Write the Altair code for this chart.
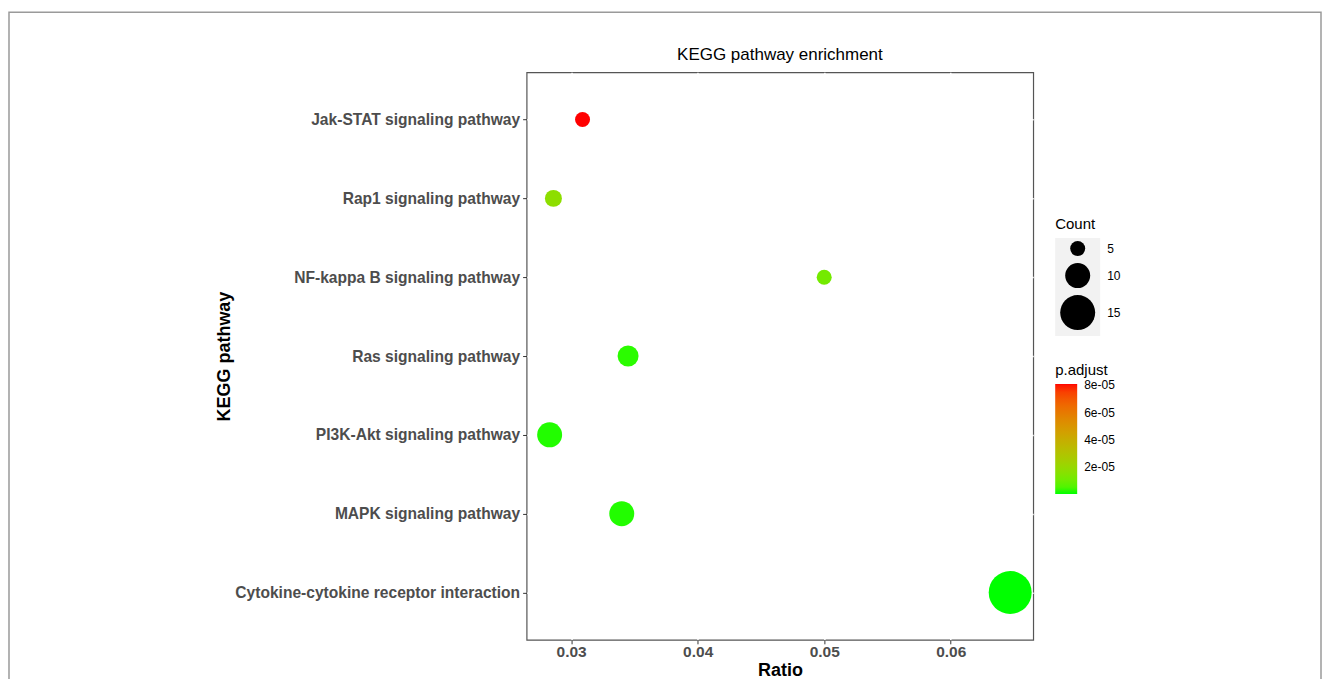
import altair as alt
import pandas as pd

pathways = [
    "Jak-STAT signaling pathway",
    "Rap1 signaling pathway",
    "NF-kappa B signaling pathway",
    "Ras signaling pathway",
    "PI3K-Akt signaling pathway",
    "MAPK signaling pathway",
    "Cytokine-cytokine receptor interaction",
]
ratio = [0.0309, 0.0286, 0.0500, 0.0345, 0.0283, 0.0340, 0.0647]
count = [5, 6, 5, 8, 10, 10, 19]
padj = [8.1e-05, 1.7e-05, 1.1e-05, 1.5e-06, 1.0e-06, 1.0e-06, 2.0e-08]
x_ticks = [0.03, 0.04, 0.05, 0.06]
count_ticks = [5, 10, 15]
padj_ticks = [2e-05, 4e-05, 6e-05, 8e-05]

df = pd.DataFrame({"Pathway": pathways, "Ratio": ratio, "Count": count, "padj": padj})

FONT = "Liberation Sans"
W, H = 507, 568

points = alt.Chart(df).transform_calculate(
    sz="datum.Count + 2.5"
).mark_circle(opacity=1).encode(
    x=alt.X("Ratio:Q",
            scale=alt.Scale(domain=[0.02648, 0.06652], nice=False, zero=False),
            axis=alt.Axis(values=x_ticks, format=".2f", title="Ratio",
                          labelFontWeight="bold", labelFontSize=15.5, labelColor="#4D4D4D",
                          titleFontWeight="bold", titleFontSize=18, titleColor="black",
                          tickColor="#333333", tickSize=4, labelPadding=1, titlePadding=1,
                          grid=True, gridColor="white", gridWidth=1.5, domain=False)),
    y=alt.Y("Pathway:N", sort=pathways,
            scale=alt.Scale(type="point", padding=0.6),
            axis=alt.Axis(title="KEGG pathway", labelLimit=500,
                          labelFontWeight="bold", labelFontSize=15.6, labelColor="#4D4D4D",
                          titleFontWeight="bold", titleFontSize=18, titleColor="black",
                          titleX=-297, titleY=H / 2, titleBaseline="alphabetic",
                          titleAlign="center", titleAngle=270,
                          tickColor="#333333", tickSize=4, labelPadding=3,
                          grid=True, gridColor="white", gridWidth=1.5, domain=False)),
    size=alt.Size("sz:Q",
                  scale=alt.Scale(type="pow", exponent=2, domain=[0, 21.5],
                                  range=[0, 43 ** 2]),
                  legend=alt.Legend(title="Count", values=[c + 2.5 for c in count_ticks],
                                    labelExpr="format(datum.value - 2.5, 'd')",
                                    orient="none", legendX=529, legendY=145,
                                    symbolFillColor="black", symbolStrokeWidth=0,
                                    symbolOpacity=1, symbolType="circle", symbolOffset=5,
                                    titleFontSize=15, titleFontWeight="normal", titleColor="black",
                                    labelFontSize=12, labelColor="black", labelOffset=12,
                                    rowPadding=7, titlePadding=9)),
    color=alt.Color("padj:Q",
                    scale=alt.Scale(range=["#00FF00", "#FF0000"], interpolate="lab", zero=False),
                    legend=alt.Legend(title="p.adjust", values=padj_ticks,
                                      labelExpr="replace(format(datum.value, '.0e'), 'e-', 'e-0')",
                                      orient="none", legendX=529, legendY=291,
                                      gradientLength=110, gradientThickness=22,
                                      gradientStrokeWidth=0,
                                      titleFontSize=15, titleFontWeight="normal", titleColor="black",
                                      labelFontSize=12, labelColor="black", labelOffset=7,
                                      titlePadding=6)),
)

one = pd.DataFrame({"a": [0]})

frame = alt.Chart(one).mark_rect(
    fillOpacity=0, stroke="#9a9a9a", strokeWidth=1.5
).encode(
    x=alt.value(-518), x2=alt.value(795), y=alt.value(-60), y2=alt.value(720)
)

key_bg = alt.Chart(one).mark_rect(fill="#F2F2F2").encode(
    x=alt.value(529), x2=alt.value(574), y=alt.value(166), y2=alt.value(264)
)

chart = alt.layer(frame, key_bg, points).properties(
    width=W, height=H,
    title=alt.TitleParams("KEGG pathway enrichment", fontSize=17, fontWeight="normal",
                          color="black", anchor="middle", offset=-52),
    padding={"left": 0, "top": 3, "right": 0, "bottom": 0},
).configure(font=FONT).configure_view(stroke="#555555", strokeWidth=1.2)

chart.save("out.html", embed_options={"renderer": "svg", "actions": False})
